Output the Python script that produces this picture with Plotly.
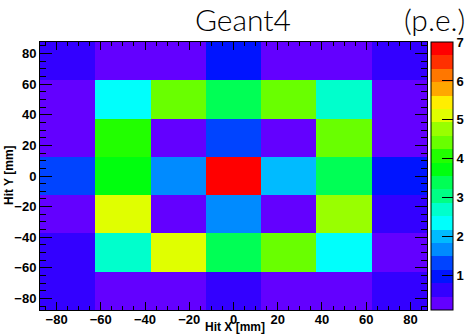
import colorsys
import plotly.graph_objects as go

# ---- data ----
x_centers = [-75, -50, -25, 0, 25, 50, 75]
y_centers = [-75, -50, -25, 0, 25, 50, 75]
# rows from y=-75 (bottom) to y=75 (top)
row_m75 = [0.65, 0.30, 0.30, 0.65, 0.30, 0.30, 0.65]
row_m50 = [0.65, 2.70, 5.10, 3.40, 4.40, 2.35, 0.30]
row_m25 = [0.30, 5.10, 0.30, 1.70, 0.30, 4.75, 0.65]
row_0 = [1.30, 3.70, 1.70, 6.95, 2.00, 3.40, 1.00]
row_p25 = [0.30, 4.10, 0.30, 1.30, 0.30, 4.40, 0.30]
row_p50 = [0.30, 2.35, 4.40, 3.40, 4.40, 2.70, 0.30]
row_p75 = [0.65, 0.30, 0.30, 1.00, 0.30, 0.30, 0.65]
z_values = [row_m75, row_m50, row_m25, row_0, row_p25, row_p50, row_p75]
z_min, z_max = 0.12, 7.0
cbar_ticks = [1, 2, 3, 4, 5, 6, 7]
x_ticks = [-80, -60, -40, -20, 0, 20, 40, 60, 80]
y_ticks = [-80, -60, -40, -20, 0, 20, 40, 60, 80]

# ---- ROOT-like "pretty palette" with 20 contour levels ----
ncont = 20
npal = 50
def pal_color(i):
    hue = 280.0 - (i + 1) * (280.0 / npal)
    r, g, b = colorsys.hls_to_rgb(hue / 360.0, 0.5, 1.0)
    return "rgb(%d,%d,%d)" % (round(r * 255), round(g * 255), round(b * 255))

colorscale = []
for k in range(ncont):
    idx = int((k + 0.99) * npal / ncont)
    c = pal_color(idx)
    colorscale.append([k / ncont, c])
    colorscale.append([(k + 1) / ncont, c])

# ---- layout geometry ----
W, H = 472, 335
L, R, T, B = 40, 427, 42, 310
pw = R - L

def px_to_paper_x(px):
    return (px - L) / pw

def py_to_paper_y(py):
    return (B - py) / (B - T)

tickfont = dict(family="Liberation Sans", size=13, color="black", weight="bold")

fig = go.Figure(go.Heatmap(
    x=x_centers, y=y_centers, z=z_values,
    zmin=z_min, zmax=z_max, colorscale=colorscale,
    colorbar=dict(
        x=px_to_paper_x(431), xanchor="left", xpad=0,
        y=0.5, yanchor="middle", ypad=0,
        len=B - T, lenmode="pixels",
        thickness=22, thicknessmode="pixels",
        outlinewidth=1, outlinecolor="black",
        tickvals=cbar_ticks, ticks="inside", ticklen=11, tickcolor="black",
        tickwidth=1, tickfont=tickfont,
    ),
))

axis_common = dict(
    showgrid=False, zeroline=False, showline=True, linecolor="black", linewidth=1,
    mirror="allticks", ticks="inside", tickcolor="black", tickwidth=1,
    tickfont=tickfont,
)
fig.update_xaxes(range=[-87.5, 87.5], tickvals=x_ticks, ticklen=8, ticklabelstandoff=-3,
                 minor=dict(ticks="inside", dtick=5, tick0=0, ticklen=4, tickcolor="black"),
                 **axis_common)
fig.update_yaxes(range=[-87.5, 87.5], tickvals=y_ticks, ticklen=12,
                 minor=dict(ticks="inside", dtick=5, tick0=0, ticklen=6, tickcolor="black"),
                 **axis_common)

title_font = dict(family="Lato", size=30, color="black", weight=300)
fig.add_annotation(text="Geant4", x=px_to_paper_x(243), y=py_to_paper_y(19),
                   xref="paper", yref="paper", showarrow=False, font=title_font,
                   xanchor="center", yanchor="middle")
fig.add_annotation(text="(p.e.)", x=px_to_paper_x(434), y=py_to_paper_y(19),
                   xref="paper", yref="paper", showarrow=False, font=title_font,
                   xanchor="center", yanchor="middle")
lab_font = dict(family="Liberation Sans", size=12, color="black", weight="bold")
fig.add_annotation(text="Hit X [mm]", x=px_to_paper_x(235), y=py_to_paper_y(327),
                   xref="paper", yref="paper", showarrow=False, font=lab_font,
                   xanchor="center", yanchor="middle")
fig.add_annotation(text="Hit Y [mm]", x=px_to_paper_x(9), y=py_to_paper_y(175),
                   xref="paper", yref="paper", showarrow=False, font=lab_font,
                   textangle=-90, xanchor="center", yanchor="middle")

fig.update_layout(
    width=W, height=H,
    margin=dict(l=L, r=W - R, t=T, b=H - B, pad=0, autoexpand=False),
    paper_bgcolor="white", plot_bgcolor="white",
    showlegend=False,
)
fig.write_html("out.html")
